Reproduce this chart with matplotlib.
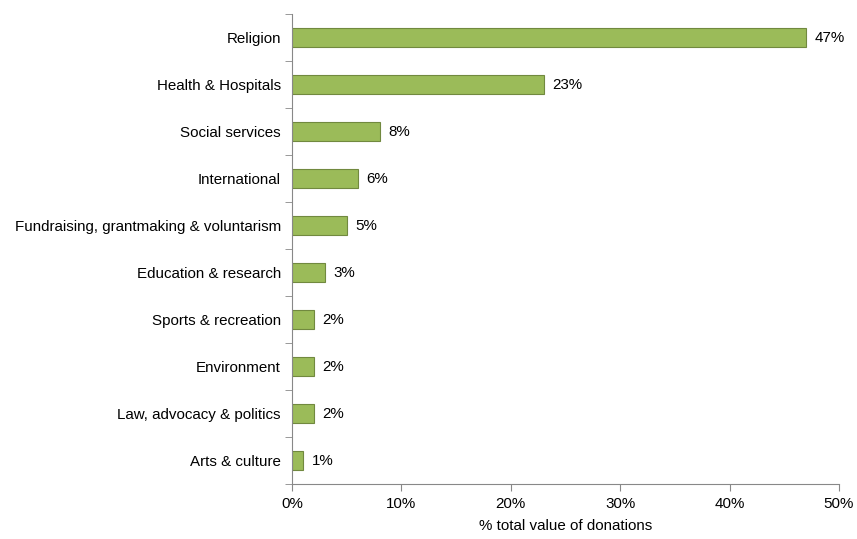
import matplotlib.pyplot as plt
import numpy as np
from matplotlib.ticker import PercentFormatter

categories = ['Religion', 'Health & Hospitals', 'Social services', 'International',
              'Fundraising, grantmaking & voluntarism', 'Education & research',
              'Sports & recreation', 'Environment', 'Law, advocacy & politics', 'Arts & culture']
values = [47, 23, 8, 6, 5, 3, 2, 2, 2, 1]

plt.rcParams['font.family'] = ['Liberation Sans', 'DejaVu Sans']
plt.rcParams['font.size'] = 10.9

fig = plt.figure(figsize=(8.57, 5.39), dpi=100)
ax = fig.add_axes([0.3407, 0.102, 0.979 - 0.3407, 0.974 - 0.102])

y = np.arange(len(categories))[::-1]
bars = ax.barh(y, values, height=0.42, color='#9BBB59', edgecolor='#71893F', linewidth=0.8)
for bar, v in zip(bars, values):
    ax.text(bar.get_width() + 0.8, bar.get_y() + bar.get_height() / 2, f'{v}%',
            va='center', ha='left', color='black')

ax.set_xlim(0, 50)
ax.set_ylim(-0.5, len(categories) - 0.5)
ax.set_xticks(np.arange(0, 51, 10))
ax.xaxis.set_major_formatter(PercentFormatter(decimals=0))
ax.set_yticks(y)
ax.set_yticklabels(categories)
ax.set_yticks(np.arange(-0.5, len(categories), 1), minor=True)
ax.tick_params(axis='y', which='major', length=0, pad=8)
ax.tick_params(axis='y', which='minor', length=5, color='#888888')
ax.tick_params(axis='x', length=5, color='#888888', pad=4)
ax.set_xlabel('% total value of donations', labelpad=6)

for side in ['top', 'right']:
    ax.spines[side].set_visible(False)
for side in ['left', 'bottom']:
    ax.spines[side].set_color('#888888')

fig.savefig('out.png', dpi=100)
